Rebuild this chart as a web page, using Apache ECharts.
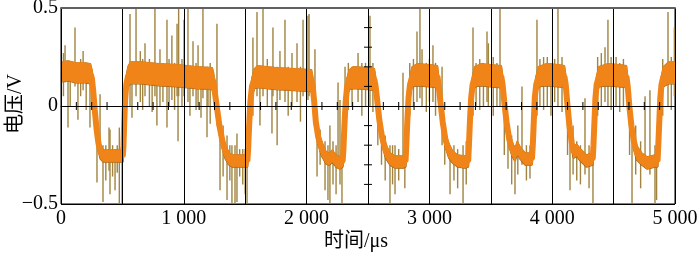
<!DOCTYPE html>
<html><head><meta charset="utf-8">
<script src="https://cdn.jsdelivr.net/npm/echarts@6/dist/echarts.min.js"></script>
<style>html,body{margin:0;padding:0;background:#fff}#c{width:700px;height:259px}</style>
</head><body><div id="c"></div>
<script>
// ---- data ----
const xTickLabels = ['0', '1 000', '2 000', '3 000', '4 000', '5 000'];
const yTickLabels = ['\u22120.5', '0', '0.5'];

const bandT = [0,60,120,200,240,252,262,275,290,305,322,345,420,503,509,515,522,532,545,565,650,800,950,1100,1232,1242,1255,1270,1290,1315,1340,1370,1400,1470,1518,1524,1532,1542,1555,1575,1600,1750,1900,2040,2050,2062,2075,2095,2125,2160,2185,2210,2240,2270,2294,2300,2308,2318,2330,2348,2380,2500,2552,2562,2575,2592,2615,2645,2680,2720,2780,2806,2812,2820,2830,2842,2860,2900,3000,3066,3076,3090,3108,3130,3160,3190,3230,3290,3316,3322,3330,3340,3352,3370,3420,3500,3586,3596,3610,3628,3650,3675,3697,3715,3740,3780,3835,3842,3850,3858,3870,3888,3950,4050,4100,4110,4122,4140,4160,4175,4200,4230,4280,4330,4336,4344,4352,4362,4380,4450,4550,4605,4615,4628,4645,4665,4690,4730,4772,4837,4858,4864,4872,4880,4890,4905,4950,5000];
const bandMid = [0.175,0.18,0.17,0.17,0.165,0.14,0.08,-0.02,-0.12,-0.19,-0.235,-0.255,-0.255,-0.255,-0.2,-0.08,0.03,0.11,0.15,0.17,0.17,0.16,0.155,0.145,0.14,0.12,0.06,-0.01,-0.1,-0.18,-0.235,-0.27,-0.28,-0.28,-0.28,-0.22,-0.1,0.02,0.1,0.14,0.15,0.14,0.135,0.13,0.1,0.02,-0.08,-0.16,-0.22,-0.265,-0.27,-0.255,-0.28,-0.29,-0.28,-0.22,-0.1,0.02,0.1,0.135,0.145,0.14,0.135,0.1,0.03,-0.07,-0.16,-0.23,-0.27,-0.285,-0.285,-0.28,-0.2,-0.08,0.04,0.11,0.15,0.16,0.155,0.15,0.1,0.02,-0.08,-0.17,-0.23,-0.26,-0.28,-0.285,-0.28,-0.2,-0.08,0.04,0.11,0.15,0.16,0.155,0.15,0.11,0.02,-0.08,-0.17,-0.22,-0.25,-0.21,-0.24,-0.27,-0.27,-0.2,-0.08,0.04,0.11,0.15,0.16,0.155,0.15,0.11,0.02,-0.1,-0.19,-0.235,-0.225,-0.25,-0.28,-0.27,-0.2,-0.08,0.04,0.11,0.15,0.16,0.155,0.15,0.1,0.0,-0.1,-0.18,-0.24,-0.27,-0.29,-0.28,-0.28,-0.2,-0.08,0.04,0.11,0.15,0.17,0.17];
const bandHalf = [0.05,0.05,0.05,0.05,0.05,0.045,0.04,0.04,0.04,0.035,0.035,0.03,0.03,0.03,0.035,0.04,0.04,0.045,0.05,0.055,0.055,0.055,0.055,0.055,0.055,0.05,0.045,0.04,0.04,0.035,0.035,0.03,0.03,0.03,0.03,0.035,0.04,0.04,0.045,0.05,0.055,0.055,0.055,0.055,0.05,0.045,0.04,0.035,0.035,0.03,0.03,0.03,0.03,0.03,0.03,0.035,0.04,0.04,0.045,0.05,0.055,0.055,0.055,0.05,0.045,0.04,0.035,0.035,0.03,0.03,0.03,0.03,0.035,0.04,0.04,0.045,0.05,0.055,0.055,0.055,0.05,0.045,0.04,0.035,0.035,0.03,0.03,0.03,0.03,0.035,0.04,0.04,0.045,0.05,0.055,0.055,0.055,0.05,0.045,0.04,0.035,0.035,0.03,0.03,0.03,0.03,0.03,0.035,0.04,0.04,0.045,0.05,0.055,0.055,0.055,0.05,0.045,0.04,0.035,0.03,0.03,0.03,0.03,0.03,0.035,0.04,0.04,0.045,0.05,0.055,0.055,0.055,0.05,0.045,0.04,0.035,0.035,0.03,0.03,0.03,0.03,0.035,0.04,0.04,0.045,0.05,0.055,0.055];

const spikeT = [20,33,57,75,114,138,160,180,205,236,
 293,318,342,365,391,399,420,440,458,475,497,522,
 562,578,611,646,665,684,720,742,765,781,806,830,863,880,903,925,945,953,958,985,1002,1034,1050,1075,1100,1116,1140,1156,1189,1197,1215,
 1270,1295,1320,1352,1375,1392,1417,1433,1455,1480,1500,1515,
 1563,1596,1620,1645,1680,1718,1726,1760,1783,1824,1850,1881,1922,1950,1971,2011,2020,
 2068,2085,2110,2150,2174,2190,2215,2240,2256,2272,2288,
 2313,2340,2370,2419,2450,2480,2516,2540,
 2580,2610,2640,2679,2700,2720,2750,2785,2800,
 2840,2870,2899,2923,2940,2975,3000,3029,3050,
 3103,3125,3168,3200,3230,3274,3300,
 3355,3380,3410,3440,3469,3480,3520,3550,3575,
 3610,3640,3670,3697,3720,3754,3790,3819,
 3876,3900,3930,3960,3990,4020,4047,4080,
 4125,4145,4170,4200,4230,4267,4300,4332,
 4370,4400,4430,4454,4480,4520,4550,4580,
 4630,4650,4680,4720,4756,4796,4837,4850,
 4900,4943,4970,4995];
const spikeTop = [0.27,0.31,0.2,0.22,0.40,0.22,0.24,0.28,0.22,0.2,
 -0.1,0.06,-0.2,-0.2,-0.11,-0.12,-0.2,-0.22,-0.2,-0.11,-0.15,0.1,
 0.47,0.2,0.5,0.28,0.24,0.32,0.24,0.22,0.5,0.2,0.29,0.22,0.44,0.24,0.36,0.22,0.42,0.2,0.5,0.24,0.44,0.5,0.2,0.33,0.22,0.31,0.2,0.5,0.2,0.2,0.22,
 0.42,-0.05,-0.1,-0.15,-0.2,-0.2,-0.2,-0.14,-0.22,-0.22,-0.22,-0.2,
 0.35,0.48,0.2,0.5,0.24,0.2,0.4,0.2,0.28,0.44,0.2,0.27,0.32,0.2,0.44,0.46,0.47,
 0.29,-0.1,-0.12,-0.18,-0.2,-0.1,-0.18,-0.2,0.12,0.03,-0.18,
 0.2,0.22,0.2,0.27,0.22,0.22,0.46,0.22,
 0.05,-0.08,-0.15,-0.2,-0.2,-0.2,-0.22,0.17,-0.2,
 0.22,0.24,0.38,0.5,0.29,0.22,0.24,0.31,0.22,
 0.2,-0.1,-0.2,-0.2,-0.22,-0.2,-0.18,
 0.4,0.22,0.24,0.22,0.38,0.32,0.25,0.22,0.5,
 0.05,-0.1,-0.15,-0.2,-0.1,0.1,-0.2,-0.2,
 0.44,0.24,0.25,0.25,0.22,0.24,0.5,0.25,
 0.05,-0.15,-0.1,-0.18,-0.2,0.04,-0.2,-0.2,
 0.25,0.27,0.3,0.44,0.25,0.25,0.22,0.24,
 0.0,-0.15,-0.1,-0.18,0.05,0.08,-0.2,-0.2,
 0.24,0.48,0.25,0.4];
const spikeBot = [0.05,0.12,-0.11,0.0,0.1,-0.07,0.05,0.08,-0.02,-0.11,
 -0.39,-0.2,-0.49,-0.38,-0.33,-0.45,-0.36,-0.43,-0.34,-0.5,-0.5,-0.15,
 0.0,-0.06,0.05,0.02,-0.02,0.05,0.0,-0.03,0.05,-0.1,0.0,0.02,-0.11,0.0,0.03,-0.02,0.05,-0.18,0.05,0.0,0.05,0.02,-0.05,0.05,-0.02,0.0,-0.06,0.04,-0.16,0.0,-0.09,
 -0.1,-0.43,-0.36,-0.48,-0.38,-0.5,-0.5,-0.49,-0.36,-0.4,-0.45,-0.5,
 -0.05,0.05,-0.1,0.05,0.0,-0.14,0.05,-0.2,0.03,0.02,-0.05,0.0,0.02,-0.08,0.05,0.03,0.05,
 -0.12,-0.36,-0.3,-0.43,-0.48,-0.5,-0.4,-0.45,-0.3,-0.4,-0.5,
 -0.1,-0.02,0.0,0.02,-0.05,0.0,0.0,-0.03,
 -0.2,-0.3,-0.38,-0.5,-0.4,-0.45,-0.38,-0.32,-0.42,
 -0.05,0.0,0.02,0.04,0.0,-0.03,0.02,0.02,-0.05,
 -0.2,-0.3,-0.45,-0.38,-0.42,-0.5,-0.4,
 -0.05,0.0,-0.02,0.0,0.02,0.0,-0.05,0.0,0.0,
 -0.25,-0.32,-0.4,-0.45,-0.35,-0.3,-0.38,-0.37,
 -0.05,0.0,-0.02,0.0,-0.05,0.02,0.0,-0.03,
 -0.25,-0.43,-0.35,-0.38,-0.4,-0.35,-0.42,-0.5,
 -0.05,0.0,0.02,0.0,-0.02,0.0,-0.03,0.0,
 -0.25,-0.5,-0.35,-0.42,-0.3,-0.35,-0.5,-0.48,
 -0.05,0.0,-0.02,0.05];

// small division ticks on the centre cross of the scope screen
const crossTickT = [125,250,375,625,750,875,1125,1250,1375,1625,1750,1875,2125,2250,2375,2625,2750,2875,3125,3250,3375,3625,3750,3875,4125,4250,4375,4625,4750,4875];
const crossTickV = [-0.4,-0.3,-0.2,-0.1,0.1,0.2,0.3,0.4];
const crossX = 2500;

// ---- build library data ----
const bandSegs = [];
for (let i = 0; i < bandT.length - 1; i++) {
  bandSegs.push([bandT[i], bandT[i+1],
    bandMid[i] + bandHalf[i], bandMid[i] - bandHalf[i],
    bandMid[i+1] + bandHalf[i+1], bandMid[i+1] - bandHalf[i+1]]);
}
const midLine = bandT.map((t, i) => [t, bandMid[i]]);
const topLine = bandT.map((t, i) => [t, bandMid[i] + bandHalf[i]]);
const botLine = bandT.map((t, i) => [t, bandMid[i] - bandHalf[i]]);
const spikes = spikeT.map((t, i) => [t, spikeTop[i], spikeBot[i]]);

const FONT = "Liberation Serif, DejaVu Serif, Noto Sans CJK SC, serif";
const ORANGE = '#f08418';

const chart = echarts.init(document.getElementById('c'), null, {renderer: 'canvas'});
chart.setOption({
  animation: false,
  backgroundColor: '#fff',
  textStyle: {fontFamily: FONT},
  grid: {left: 61, right: 25, top: 8, bottom: 55, show: true, borderColor: '#000', borderWidth: 1,
         containLabel: false, outerBoundsMode: 'none'},
  xAxis: [{
    type: 'value', min: 0, max: 5000, interval: 500, z: 5,
    axisLine: {lineStyle: {color: '#000', width: 1}},
    axisTick: {show: false},
    splitLine: {show: true, lineStyle: {color: '#000', width: 1}},
    axisLabel: {
      margin: 5, color: '#000', fontFamily: FONT, fontSize: 20,
      formatter: v => (v % 1000 === 0 ? xTickLabels[v / 1000] : '')
    },
    name: '时间/μs', nameLocation: 'middle', nameGap: 28, nameMoveOverlap: false,
    nameTextStyle: {color: '#000', fontFamily: FONT, fontSize: 20, padding: [0, 24, 0, 0]}
  }, {
    type: 'value', min: 0, max: 5000, position: 'top', z: 5,
    axisLine: {show: true, lineStyle: {color: '#606060', width: 2}},
    axisTick: {show: false}, axisLabel: {show: false}, splitLine: {show: false}
  }],
  yAxis: {
    type: 'value', min: -0.5, max: 0.5, interval: 0.5, z: 5,
    axisLine: {show: true, lineStyle: {color: '#000', width: 1}},
    axisTick: {show: false},
    splitLine: {show: true, lineStyle: {color: '#000', width: 1}},
    axisLabel: {
      margin: 3, color: '#000', fontFamily: FONT, fontSize: 20,
      formatter: v => yTickLabels[Math.round(v / 0.5) + 1]
    },
    name: '电压/V', nameLocation: 'middle', nameGap: 35, nameRotate: 90, nameMoveOverlap: false,
    nameTextStyle: {color: '#000', fontFamily: FONT, fontSize: 20, padding: [0, 0, 0, 4]}
  },
  series: [
    {
      type: 'custom', name: 'spikes', z: 1, clip: true,
      data: spikes, encode: {x: 0, y: [1, 2]},
      renderItem: (params, api) => {
        const a = api.coord([api.value(0), api.value(1)]);
        const b = api.coord([api.value(0), api.value(2)]);
        return {type: 'line', shape: {x1: a[0], y1: a[1], x2: b[0], y2: b[1]},
          style: {stroke: '#a08440', lineWidth: 1.4}};
      }
    },
    {
      type: 'line', name: 'bandBottom', z: 2, data: botLine, showSymbol: false,
      lineStyle: {color: '#9a6018', width: 2}
    },
    {
      type: 'line', name: 'bandTop', z: 2, data: topLine, showSymbol: false,
      lineStyle: {color: '#b87a22', width: 1.5}
    },
    {
      type: 'custom', name: 'band', z: 3, clip: true,
      data: bandSegs, encode: {x: [0, 1], y: [2, 3, 4, 5]},
      renderItem: (params, api) => {
        const p = [api.coord([api.value(0), api.value(2)]), api.coord([api.value(1), api.value(4)]),
                   api.coord([api.value(1), api.value(5)]), api.coord([api.value(0), api.value(3)])];
        return {type: 'polygon', shape: {points: p}, style: {fill: ORANGE, stroke: ORANGE, lineWidth: 1}};
      }
    },
    {
      type: 'line', name: 'bandCore', z: 3, data: midLine, showSymbol: false,
      lineStyle: {color: ORANGE, width: 6}
    },
    {
      type: 'custom', name: 'hTicks', z: 6, data: crossTickT, encode: {x: 0},
      renderItem: (params, api) => {
        const c = api.coord([api.value(0), 0]);
        return {type: 'line', shape: {x1: c[0], y1: c[1] - 4, x2: c[0], y2: c[1] + 4},
          style: {stroke: '#000', lineWidth: 1}};
      }
    },
    {
      type: 'custom', name: 'vTicks', z: 6, data: crossTickV, encode: {y: 0},
      renderItem: (params, api) => {
        const c = api.coord([crossX, api.value(0)]);
        return {type: 'line', shape: {x1: c[0] - 4, y1: c[1], x2: c[0] + 4, y2: c[1]},
          style: {stroke: '#000', lineWidth: 1}};
      }
    }
  ]
});
</script></body></html>
